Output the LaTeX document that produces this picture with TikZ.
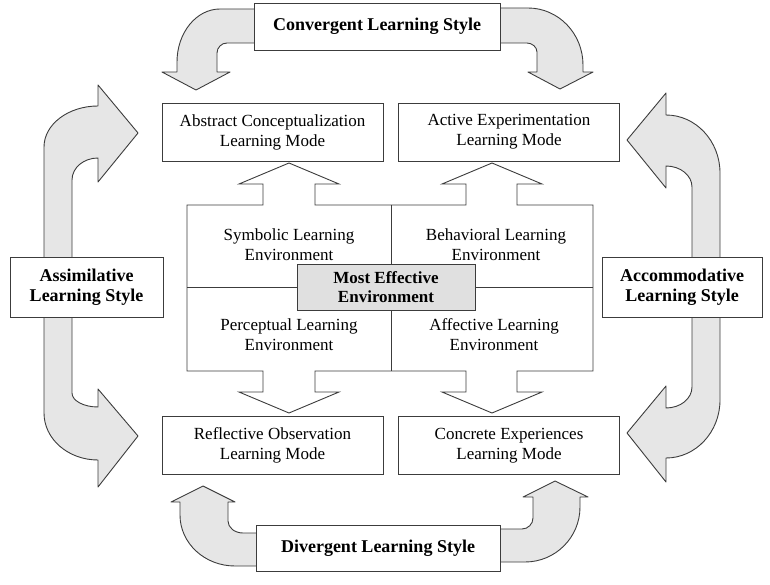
\documentclass[tikz,border=0pt]{standalone}
\usepackage{fontspec}
\setmainfont{Liberation Serif}
\definecolor{linec}{RGB}{60,60,60}
\definecolor{arrowfill}{RGB}{230,230,230}
\definecolor{boxfill}{RGB}{224,224,224}
\begin{document}
\begin{tikzpicture}[x=1pt,y=-1pt,
  blockarrow/.style={draw=linec,fill=arrowfill,line width=0.9pt,line join=round},
  modebox/.style={draw=linec,fill=white,line width=0.9pt,minimum width=221pt,minimum height=58pt,inner sep=0pt,align=center,font=\fontsize{17}{20}\selectfont},
  stylebox/.style={draw=linec,fill=white,line width=0.9pt,inner sep=0pt,align=center,font=\fontsize{18}{20}\selectfont\bfseries},
  envtext/.style={inner sep=0pt,align=center,font=\fontsize{17}{19.5}\selectfont},
  centerbox/.style={draw=linec,fill=boxfill,line width=0.9pt,minimum width=178pt,minimum height=46pt,inner sep=0pt,align=center,font=\fontsize{17}{19}\selectfont\bfseries},
  panel/.style={draw=linec,fill=white,line width=0.9pt,line join=miter}]
\useasboundingbox (0,0) rectangle (770,585);

% ---- curved block arrows ----
% top-left
\path[blockarrow] (270,9) -- (220,9) .. controls (196.3,9) and (177,32.7) .. (177,62)
  -- (177,72) -- (162,72) -- (196,90) -- (230,72) -- (217,72) -- (217,53)
  .. controls (217,47.5) and (221.5,43) .. (227,43) -- (270,43) -- cycle;
% top-right
\path[blockarrow] (490,8) -- (528,8) .. controls (558.4,8) and (583,33.5) .. (583,65)
  -- (583,72) -- (593,72) -- (560,89) -- (528,72) -- (537,72) -- (537,52)
  .. controls (537,47) and (532,43) .. (527,43) -- (490,43) -- cycle;
% bottom-left
\path[blockarrow] (270,533) -- (243,533) .. controls (234.7,533) and (228,527.6) .. (228,521)
  -- (228,502) -- (235,502) -- (203,486) -- (171,502) -- (180,502) -- (180,515)
  .. controls (180,543.2) and (204.6,566) .. (235,566) -- (270,566) -- cycle;
% bottom-right
\path[blockarrow] (490,529) -- (522,529) .. controls (528,529) and (533,524) .. (533,518)
  -- (533,497) -- (523,497) -- (555,481) -- (588,497) -- (580,497) -- (580,507)
  .. controls (580,537.4) and (555.4,562) .. (525,562) -- (490,562) -- cycle;
% left-top
\path[blockarrow] (44,270) -- (44,147) .. controls (44,124.4) and (68.2,106) .. (98,106)
  -- (98,85) -- (138,133) -- (98,182) -- (98,158)
  .. controls (83.6,158) and (72,167.8) .. (72,180) -- (72,270) -- cycle;
% left-bottom
\path[blockarrow] (44,300) -- (44,413) .. controls (44,439) and (68.2,460) .. (98,460)
  -- (98,487) -- (138,436) -- (98,389) -- (98,407)
  .. controls (83.6,407) and (72,400.7) .. (72,393) -- (72,300) -- cycle;
% right-top
\path[blockarrow] (720,270) -- (720,173) .. controls (720,141) and (695.8,115) .. (666,115)
  -- (666,93) -- (627,140) -- (666,188) -- (666,166)
  .. controls (680.4,166) and (692,175.4) .. (692,187) -- (692,270) -- cycle;
% right-bottom
\path[blockarrow] (720,300) -- (720,400) .. controls (720,432) and (695.8,458) .. (666,458)
  -- (666,482) -- (627,433) -- (666,386) -- (666,408)
  .. controls (680.4,408) and (692,398.6) .. (692,387) -- (692,300) -- cycle;

% ---- style boxes ----
\node[stylebox,minimum width=246pt,minimum height=47pt] (conv) at (377,26.5) {Convergent Learning Style};
\node[stylebox,minimum width=244pt,minimum height=46pt] (div) at (378,548) {Divergent Learning Style};
\node[stylebox,minimum width=153pt,minimum height=60pt] (assim) at (86.5,287) {Assimilative\\Learning Style};
\node[stylebox,minimum width=160pt,minimum height=60pt] (accom) at (682,287) {Accommodative\\Learning Style};

% ---- mode boxes ----
\node[modebox] (ac) at (272.5,132) {Abstract Conceptualization\\Learning Mode};
\node[modebox] (ae) at (509,132) {Active Experimentation\\Learning Mode};
\node[modebox] (ro) at (272.5,445.5) {Reflective Observation\\Learning Mode};
\node[modebox] (ce) at (509,445.5) {Concrete Experiences\\Learning Mode};

% ---- central panel with four block arrows ----
\path[panel] (187,205) -- (263,205) -- (263,184) -- (239,184) -- (289,163) -- (339,184) -- (315,184) -- (315,205)
  -- (466,205) -- (466,184) -- (442,184) -- (492,163) -- (542,184) -- (517,184) -- (517,205)
  -- (593,205) -- (593,371) -- (517,371) -- (517,392) -- (542,392) -- (492,413) -- (442,392) -- (466,392) -- (466,371)
  -- (315,371) -- (315,392) -- (339,392) -- (289,413) -- (239,392) -- (263,392) -- (263,371) -- (187,371) -- cycle;
\coordinate (vtop) at (391,205);
\coordinate (vbot) at (391,371);
\coordinate (hleft) at (187,287);
\coordinate (hright) at (593,287);
\draw[draw=linec,line width=0.9pt] (vtop) -- (vbot);
\draw[draw=linec,line width=0.9pt] (hleft) -- (hright);

\node[envtext] (sym) at (289,244.5) {Symbolic Learning\\Environment};
\node[envtext] (beh) at (496,244.5) {Behavioral Learning\\Environment};
\node[envtext] (per) at (289,334.5) {Perceptual Learning\\Environment};
\node[envtext] (aff) at (494,334.5) {Affective Learning\\Environment};

\node[centerbox] (most) at (386,287) {Most Effective\\Environment};
\end{tikzpicture}
\end{document}
